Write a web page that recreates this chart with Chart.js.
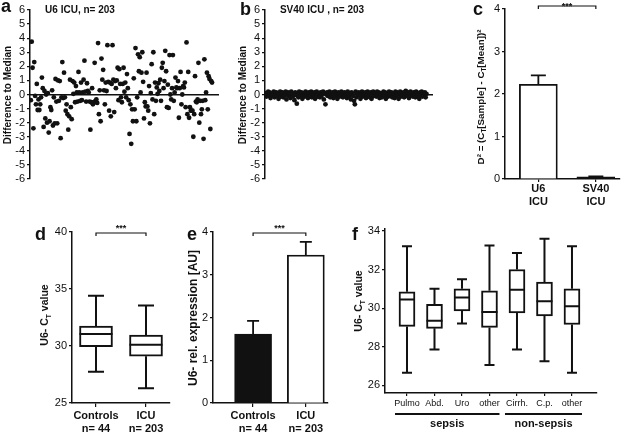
<!DOCTYPE html>
<html>
<head>
<meta charset="utf-8">
<script src="https://cdn.jsdelivr.net/npm/chart.js@4.4.1/dist/chart.umd.min.js"></script>
<style>
  html, body { margin: 0; padding: 0; background: #fff; }
  #fig { position: relative; width: 627px; height: 433px; overflow: hidden; background: #fff; }
  #fig canvas { position: absolute; }
</style>
</head>
<body>
<div id="fig">
  <canvas id="cA" width="230" height="200" style="left:0;top:0"></canvas>
  <canvas id="cB" width="210" height="200" style="left:232px;top:0"></canvas>
  <canvas id="cC" width="183" height="215" style="left:444px;top:0"></canvas>
  <canvas id="cD" width="185" height="218" style="left:0;top:215px"></canvas>
  <canvas id="cE" width="160" height="218" style="left:185px;top:215px"></canvas>
  <canvas id="cF" width="282" height="218" style="left:345px;top:215px"></canvas>
</div>
<script>
// a: U6 difference to median, per sample
const u6Diff = [-0.4, 3.75, 1.9, -2.4, 2.3, -0.1, -0.7, 0.75, -1.1, -0.35,
  -1.1, -0.7, -0.2, 1.2, 0.45, -2.3, 0.25, -1.7, 0, -2.0,
  0.1, -2.7, -1.9, -0.9, -1.1, 0.3, -2.2, -0.2, -2.05, 1.1,
  -0.5, -2.05, 1.0, -0.45, 0.95, -3.1, -0.2, 2.3, -0.25, 1.55,
  -0.2, -1.15, -0.7, -1.4, -2.5, -1.55, 1.05, -0.9, -1.75, 0.95,
  0.05, 0.85, -0.55, 0.6, 0.15, -0.5, 1.6, 0.15, -0.45, 0.85,
  -0.4, 0.15, 1.05, 2.4, 0.2, -0.5, 0.8, 0.25, 0.15, -0.5,
  -2.5, -0.55, 0.45, -0.7, -0.55, 2.25, -0.45, -0.35, -0.6, 3.65,
  -1.4, 0.3, -1.9, 2.55, 1.05, 1.75, 0.3, -0.7, 0.85, 0.25,
  3.5, 0.9, -1.15, 0.85, -1.55, 0.75, 3.5, 1.05, -1.25, 0.95,
  0.45, 1.0, 1.9, -0.4, 1.8, 0.75, -0.2, -0.55, 0.75, 1.9,
  0.2, 0.85, -0.2, 1.45, 0.45, -0.4, -2.8, -0.7, -3.5, -1.05,
  -1.9, 1.15, -1.05, 3.3, -1.9, -0.2, 2.85, 1.65, 2.65, 0.15,
  1.55, 3.0, 0.9, -1.7, -0.55, -0.85, 1.55, -0.85, -1.15, 0.6,
  -2.05, 0.1, 2.15, -0.35, 3.0, -1.4, 0.85, -0.45, 0.5, 0.05,
  0.8, 0.25, 1.05, -0.45, 1.9, 2.25, 0.45, 0.95, 3.1, 1.65,
  -0.9, 0.7, -0.95, 2.8, 0.0, -0.35, 0.45, 2.8, -0.45, 0.15,
  1.2, 0.5, 0.45, 0.95, -1.65, 0.45, 1.6, -0.7, 0.0, 0.6,
  0.5, 0.85, -0.9, 3.7, -1.4, 1.6, -1.65, -0.9, -1.15, -1.15,
  -1.15, -3.0, -1.4, 1.3, -0.5, -0.55, -0.35, 2.25, -2.0, -0.45,
  -1.4, -1.05, -0.45, -3.15, 2.5, -0.4, 0.15, 1.55, -1.05, 1.3,
  1.1, -2.45, 0.95, 0.85];

// b: SV40 difference to median
const sv40Diff = [0.1, -0.15, 0.05, 0.2, -0.1, 0.15, -0.25, 0.0, 0.1, -0.05, 0.2, -0.2, 0.05, 0.15, -0.1, 0.1, -0.3, 0.0, 0.2, -0.15,
  0.05, 0.15, -0.2, 0.1, -0.05, 0.2, -0.35, 0.0, 0.15, -0.1, 0.05, -0.25, 0.2, 0.1, -0.15, 0.0, -0.4, 0.15, -0.05, -0.65,
  0.1, -0.2, 0.2, 0.05, -0.1, 0.15, -0.3, 0.0, 0.1, -0.15, 0.2, -0.05, 0.05, -0.25, 0.15, 0.0, -0.1, 0.2, -0.2, 0.1,
  -0.05, 0.15, -0.3, 0.05, 0.2, -0.15, 0.0, 0.1, -0.2, 0.15, -0.1, 0.05, 0.2, -0.35, 0.1, -0.7, 0.0, 0.15, -0.1, 0.05,
  0.2, -0.2, 0.1, -0.05, 0.15, -0.25, 0.0, 0.2, -0.1, 0.05, -0.3, 0.15, 0.1, -0.15, 0.0, 0.2, -0.05, -0.2, 0.1, 0.15,
  -0.1, 0.05, -0.25, 0.2, 0.0, -0.15, 0.1, -0.35, 0.15, 0.05, -0.1, -0.45, -0.7, 0.2, -0.2, 0.1, 0.0, 0.15, -0.05, -0.3,
  0.1, 0.2, -0.15, 0.05, -0.1, 0.15, -0.25, 0.0, 0.2, -0.05, 0.1, -0.2, 0.15, -0.3, 0.05, 0.2, -0.1, 0.0, 0.1, -0.15,
  0.2, -0.05, 0.15, -0.25, 0.05, 0.1, -0.2, 0.0, 0.2, -0.1, 0.15, -0.3, 0.05, 0.1, -0.15, 0.2, 0.0, -0.05, 0.15, -0.2,
  0.1, 0.05, -0.25, 0.2, -0.1, 0.15, 0.0, -0.3, 0.1, 0.2, -0.15, 0.05, -0.05, 0.15, -0.2, 0.1, 0.25, -0.1, 0.0, 0.15,
  -0.25, 0.1, 0.2, -0.05, 0.05, -0.15, 0.15, 0.0, -0.2, 0.2, 0.1, -0.1, 0.05, -0.3, 0.15, 0.0, 0.2, -0.15, 0.1, -0.05,
  0.15, -0.2, 0.05];

// c: squared deviation, mean + SEM
const devCats = [["U6", "ICU"], ["SV40", "ICU"]];
const devMean = [2.23, 0.05];
const devErr = [2.44, 0.06];

// d: U6 Ct boxes
const ctCats = [["Controls", "n= 44"], ["ICU", "n= 203"]];
const ctLow = [27.75, 26.3];
const ctQ1 = [29.95, 29.1];
const ctMed = [31.05, 30.1];
const ctQ3 = [31.75, 30.95];
const ctHigh = [34.4, 33.55];

// e: relative expression, mean + SEM
const exprCats = [["Controls", "n= 44"], ["ICU", "n= 203"]];
const exprMean = [1.61, 3.46];
const exprErr = [1.92, 3.77];

// f: U6 Ct by subgroup
const grpCats = ["Pulmo", "Abd.", "Uro", "other", "Cirrh.", "C.p.", "other"];
const grpLow = [26.65, 27.85, 29.2, 27.05, 27.85, 27.25, 26.65];
const grpQ1 = [29.05, 28.95, 29.85, 29.0, 29.75, 29.6, 29.15];
const grpMed = [30.45, 29.35, 30.55, 29.8, 30.95, 30.35, 30.1];
const grpQ3 = [30.85, 30.2, 31.0, 30.9, 32.0, 31.35, 31.0];
const grpHigh = [33.2, 31.0, 31.5, 33.25, 32.85, 33.6, 33.2];
const grpNames = ["sepsis", "non-sepsis"];
const grpSpans = [[0, 3], [4, 6]];

const FONT = "'Liberation Sans', Arial, Helvetica, sans-serif";
const INK = "#111";
Chart.defaults.font.family = FONT;
Chart.defaults.color = INK;
Chart.defaults.animation = false;
Chart.defaults.plugins.legend.display = false;
Chart.defaults.plugins.tooltip.enabled = false;

function yAxis(min, max, step, width) {
  return {
    min: min, max: max,
    ticks: { stepSize: step, autoSkip: false, font: { size: 11 }, padding: 2, color: INK },
    grid: { drawOnChartArea: false, drawTicks: true, tickLength: 3, color: INK, lineWidth: 1.2 },
    border: { color: INK, width: 1.5 },
    afterFit: s => { s.width = width; }
  };
}

// linear axis used like a category axis so the columns can sit off-centre
function catAxis(min, max, labels, height, font, tickLen, pad) {
  return {
    type: "linear", min: min, max: max, offset: false,
    afterBuildTicks: s => { s.ticks = labels.map((_, i) => ({ value: i })); },
    ticks: { callback: v => labels[v], autoSkip: false, maxRotation: 0, font: font, padding: pad, color: INK },
    grid: { offset: false, drawOnChartArea: false, drawTicks: true, tickLength: tickLen, color: INK, lineWidth: 1.2 },
    border: { color: INK, width: 1.5 },
    afterFit: s => { s.height = height; }
  };
}

function letter(ctx, ch, x, y) {
  ctx.save();
  ctx.fillStyle = INK;
  ctx.font = "bold 18px " + FONT;
  ctx.textAlign = "left";
  ctx.textBaseline = "alphabetic";
  ctx.fillText(ch, x, y);
  ctx.restore();
}

function hText(ctx, txt, x, y, font, align) {
  ctx.save();
  ctx.fillStyle = INK;
  ctx.font = font + " " + FONT;
  ctx.textAlign = align || "center";
  ctx.textBaseline = "alphabetic";
  ctx.fillText(txt, x, y);
  ctx.restore();
}

// rotated axis title, parts = [text, isSubscript]
function vText(ctx, parts, cx, cy, size) {
  ctx.save();
  ctx.fillStyle = INK;
  ctx.translate(cx, cy);
  ctx.rotate(-Math.PI / 2);
  ctx.textAlign = "left";
  ctx.textBaseline = "alphabetic";
  let total = 0;
  parts.forEach(p => {
    ctx.font = "bold " + (p[1] ? size * 0.65 : size) + "px " + FONT;
    total += ctx.measureText(p[0]).width;
  });
  let x = -total / 2;
  parts.forEach(p => {
    ctx.font = "bold " + (p[1] ? size * 0.65 : size) + "px " + FONT;
    ctx.fillText(p[0], x, size * 0.36 + (p[1] ? size * 0.3 : 0));
    x += ctx.measureText(p[0]).width;
  });
  ctx.restore();
}

function bracket(chart, i1, i2, y, starsY) {
  const ctx = chart.ctx;
  const x1 = chart.scales.x.getPixelForValue(i1);
  const x2 = chart.scales.x.getPixelForValue(i2);
  ctx.save();
  ctx.strokeStyle = INK;
  ctx.lineWidth = 1.2;
  ctx.beginPath();
  ctx.moveTo(x1, y + 3);
  ctx.lineTo(x1, y);
  ctx.lineTo(x2, y);
  ctx.lineTo(x2, y + 3);
  ctx.stroke();
  ctx.restore();
  hText(chart.ctx, "***", (x1 + x2) / 2, starsY, "bold 9px");
}

function errorBars(chart, means, errs, cap) {
  const ctx = chart.ctx, xs = chart.scales.x, ys = chart.scales.y;
  ctx.save();
  ctx.strokeStyle = INK;
  ctx.lineWidth = 1.8;
  means.forEach((m, i) => {
    const x = xs.getPixelForValue(i);
    const yt = ys.getPixelForValue(errs[i]);
    ctx.beginPath();
    ctx.moveTo(x, ys.getPixelForValue(m));
    ctx.lineTo(x, yt);
    ctx.moveTo(x - cap / 2, yt);
    ctx.lineTo(x + cap / 2, yt);
    ctx.stroke();
  });
  ctx.restore();
}

function whiskers(chart, low, q1, med, q3, high, boxW, cap) {
  const ctx = chart.ctx, xs = chart.scales.x, ys = chart.scales.y;
  ctx.save();
  ctx.strokeStyle = INK;
  ctx.lineWidth = 2;
  med.forEach((m, i) => {
    const x = xs.getPixelForValue(i);
    ctx.beginPath();
    ctx.moveTo(x, ys.getPixelForValue(q3[i]));
    ctx.lineTo(x, ys.getPixelForValue(high[i]));
    ctx.moveTo(x - cap / 2, ys.getPixelForValue(high[i]));
    ctx.lineTo(x + cap / 2, ys.getPixelForValue(high[i]));
    ctx.moveTo(x, ys.getPixelForValue(q1[i]));
    ctx.lineTo(x, ys.getPixelForValue(low[i]));
    ctx.moveTo(x - cap / 2, ys.getPixelForValue(low[i]));
    ctx.lineTo(x + cap / 2, ys.getPixelForValue(low[i]));
    ctx.moveTo(x - boxW / 2, ys.getPixelForValue(m));
    ctx.lineTo(x + boxW / 2, ys.getPixelForValue(m));
    ctx.stroke();
  });
  ctx.restore();
}

function scatterChart(id, values, padRight, yw, deco) {
  return new Chart(document.getElementById(id), {
    type: "scatter",
    data: { datasets: [{ data: values.map((v, i) => ({ x: i, y: v })), pointRadius: 2.4, backgroundColor: INK, borderWidth: 0 }] },
    options: {
      responsive: false,
      layout: { padding: { left: 0, top: 10, right: padRight, bottom: 21 }, autoPadding: false },
      scales: {
        x: {
          type: "linear", min: -1, max: values.length + 6, position: { y: 0 },
          ticks: { display: false }, grid: { display: false },
          border: { color: INK, width: 1.5 },
          afterFit: s => { s.height = 0; }
        },
        y: yAxis(-6, 6, 1, yw)
      }
    },
    plugins: [{ id: "deco" + id, afterDraw: chart => deco(chart, chart.ctx) }]
  });
}

// a
scatterChart("cA", u6Diff, 12, 30, (chart, ctx) => {
  letter(ctx, "a", 1, 12);
  hText(ctx, "U6 ICU, n= 203", 80, 13, "bold 10px");
  vText(ctx, [["Difference to Median", false]], 7, 95, 10);
});

// b
scatterChart("cB", sv40Diff, 10, 33, (chart, ctx) => {
  letter(ctx, "b", 8, 15);
  hText(ctx, "SV40 ICU , n= 203", 90, 13, "bold 10px");
  vText(ctx, [["Difference to Median", false]], 10, 95, 10);
});

// c
new Chart(document.getElementById("cC"), {
  type: "bar",
  data: { datasets: [{
    data: devMean.map((v, i) => ({ x: i, y: v })),
    backgroundColor: ["#fff", INK], borderColor: INK, borderWidth: 1.8, barThickness: 38
  }] },
  options: {
    responsive: false,
    layout: { padding: { left: 0, top: 9, right: 7, bottom: 0 }, autoPadding: false },
    scales: {
      x: catAxis(-0.58, 1.42, devCats, 36, { size: 11, weight: "bold", lineHeight: 1.2 }, 3, 0),
      y: yAxis(0, 4, 1, 61)
    }
  },
  plugins: [{ id: "decoC", afterDraw: chart => {
    const ctx = chart.ctx;
    errorBars(chart, devMean, devErr, 15);
    letter(ctx, "c", 29, 15);
    vText(ctx, [["D\u00b2 = (C", false], ["T", true], ["[Sample] - C", false], ["T", true], ["[Mean])\u00b2", false]], 36, 97, 9.8);
    bracket(chart, 0, 1, 6, 9);
  } }]
});

// d
new Chart(document.getElementById("cD"), {
  type: "bar",
  data: { datasets: [{
    data: ctQ1.map((v, i) => ({ x: i, y: [v, ctQ3[i]] })),
    backgroundColor: "#fff", borderColor: INK, borderWidth: 2, borderSkipped: false, barThickness: 33
  }] },
  options: {
    responsive: false,
    layout: { padding: { left: 0, top: 17, right: 15, bottom: 0 }, autoPadding: false },
    scales: {
      x: catAxis(-0.48, 1.48, ctCats, 30, { size: 11, weight: "bold", lineHeight: 1.2 }, 4, 2),
      y: yAxis(25, 40, 5, 72)
    }
  },
  plugins: [{ id: "decoD", afterDraw: chart => {
    const ctx = chart.ctx;
    whiskers(chart, ctLow, ctQ1, ctMed, ctQ3, ctHigh, 33, 16);
    letter(ctx, "d", 35, 25);
    vText(ctx, [["U6- C", false], ["T", true], [" value", false]], 44, 100, 10.5);
    bracket(chart, 0, 1, 18, 16);
  } }]
});

// e
new Chart(document.getElementById("cE"), {
  type: "bar",
  data: { datasets: [{
    data: exprMean.map((v, i) => ({ x: i, y: v })),
    backgroundColor: [INK, "#fff"], borderColor: INK, borderWidth: 1.8, barThickness: 37
  }] },
  options: {
    responsive: false,
    layout: { padding: { left: 0, top: 17, right: 17, bottom: 0 }, autoPadding: false },
    scales: {
      x: catAxis(-0.76, 1.42, exprCats, 30, { size: 11, weight: "bold", lineHeight: 1.2 }, 4, 2),
      y: yAxis(0, 4, 1, 28)
    }
  },
  plugins: [{ id: "decoE", afterDraw: chart => {
    const ctx = chart.ctx;
    errorBars(chart, exprMean, exprErr, 12);
    letter(ctx, "e", 2, 25);
    vText(ctx, [["U6- rel. expression [AU]", false]], 8, 103, 12);
    bracket(chart, 0, 1, 18, 16);
  } }]
});

// f
new Chart(document.getElementById("cF"), {
  type: "bar",
  data: { datasets: [{
    data: grpQ1.map((v, i) => ({ x: i, y: [v, grpQ3[i]] })),
    backgroundColor: "#fff", borderColor: INK, borderWidth: 2, borderSkipped: false, barThickness: 16
  }] },
  options: {
    responsive: false,
    layout: { padding: { left: 0, top: 14, right: 30, bottom: 0 }, autoPadding: false },
    scales: {
      x: catAxis(-0.8, 6.91, grpCats, 40, { size: 9, lineHeight: 1.2 }, 3, 2),
      y: Object.assign(yAxis(25.6, 34.1, 2, 40), {
        afterBuildTicks: s => { s.ticks = [26, 28, 30, 32, 34].map(v => ({ value: v })); }
      })
    }
  },
  plugins: [{ id: "decoF", afterDraw: chart => {
    const ctx = chart.ctx;
    const xs = chart.scales.x;
    whiskers(chart, grpLow, grpQ1, grpMed, grpQ3, grpHigh, 16, 10);
    letter(ctx, "f", 7, 25);
    vText(ctx, [["U6- C", false], ["T", true], [" value", false]], 13, 86, 10.5);
    ctx.save();
    ctx.strokeStyle = INK;
    ctx.lineWidth = 2;
    grpSpans.forEach((sp, k) => {
      const x1 = xs.getPixelForValue(sp[0]) - 12;
      const x2 = xs.getPixelForValue(sp[1]) + 10;
      ctx.beginPath();
      ctx.moveTo(x1, 199);
      ctx.lineTo(x2, 199);
      ctx.stroke();
      hText(ctx, grpNames[k], (x1 + x2) / 2, 212, "bold 11px");
    });
    ctx.restore();
  } }]
});
</script>
</body>
</html>
